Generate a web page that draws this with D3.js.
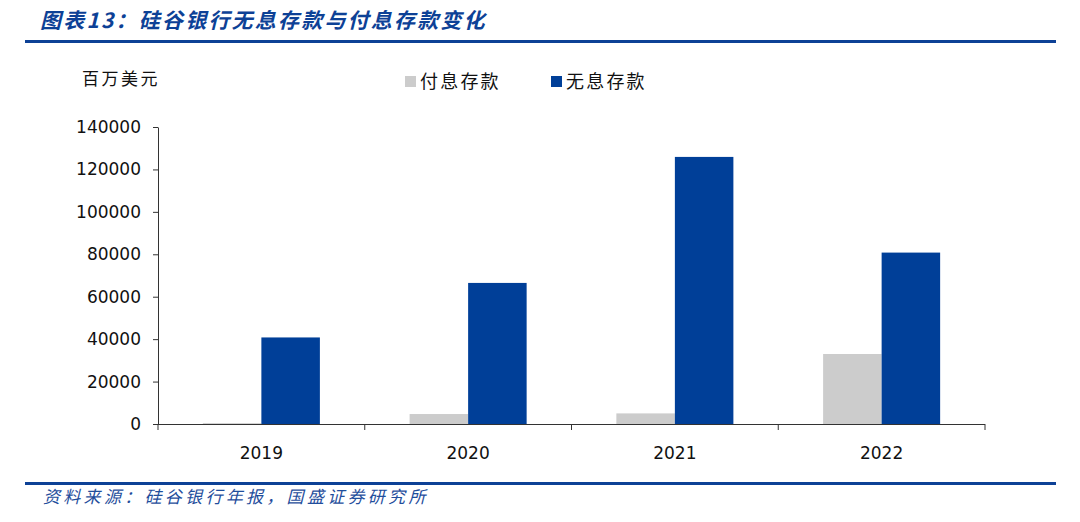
<!DOCTYPE html>
<html><head><meta charset="utf-8">
<script src="https://cdn.jsdelivr.net/npm/d3@7"></script>
<style>
body{margin:0;background:#fff;}
svg{display:block;}
</style></head>
<body>
<svg id="c" width="1080" height="522"></svg>
<script>
const categories = ["2019","2020","2021","2022"];
const seriesNames = ["付息存款","无息存款"];
const interestBearing = [400, 4700, 5000, 33000];
const nonInterestBearing = [40800, 66500, 125900, 80800];
const yTicks = [0,20000,40000,60000,80000,100000,120000,140000];
const colors = ["#cccccc","#003f98"];
const title = "图表13：硅谷银行无息存款与付息存款变化";
const source = "资料来源：硅谷银行年报，国盛证券研究所";
const unit = "百万美元";

const svg = d3.select("#c");
const cjk = "'Noto Sans CJK SC', sans-serif";
const num = "'DejaVu Sans', Tahoma, sans-serif";

// header / footer rules
svg.append("rect").attr("x",25).attr("y",40).attr("width",1031).attr("height",3).attr("fill","#0d4196");
svg.append("rect").attr("x",25).attr("y",482).attr("width",1031).attr("height",3).attr("fill","#0d4196");

svg.append("text").attr("x",40).attr("y",28)
  .attr("font-family",cjk).attr("font-size",21).attr("font-weight","bold").attr("font-style","italic")
  .attr("letter-spacing",2.2).attr("fill","#0d4196").text(title);
svg.append("text").attr("x",43).attr("y",503)
  .attr("font-family",cjk).attr("font-size",17).attr("font-style","italic")
  .attr("letter-spacing",3.3).attr("fill","#1f4e9c").text(source);

svg.append("text").attr("x",82).attr("y",85)
  .attr("font-family",cjk).attr("font-size",17).attr("letter-spacing",2.5).attr("fill","#111").text(unit);

// legend
const legX = [405, 551];
seriesNames.forEach((s,i)=>{
  svg.append("rect").attr("x",legX[i]).attr("y",76).attr("width",11).attr("height",11).attr("fill",colors[i]);
  svg.append("text").attr("x",legX[i]+15).attr("y",88)
    .attr("font-family",cjk).attr("font-size",18).attr("letter-spacing",2.2).attr("fill","#111").text(s);
});

const x = d3.scaleBand().domain(categories).range([158,985]).padding(0);
const groupFrac = 0.566;
const x1 = d3.scaleBand().domain(seriesNames).range([0, x.bandwidth()*groupFrac]).padding(0);
const groupOff = x.bandwidth()*(1-groupFrac)/2;
const y = d3.scaleLinear().domain([0,140000]).range([424,127]);

const data = [interestBearing, nonInterestBearing];
seriesNames.forEach((s,si)=>{
  svg.append("g").selectAll("rect").data(categories).join("rect")
    .attr("x", d=>x(d)+groupOff+x1(s))
    .attr("width", x1.bandwidth())
    .attr("y", (d,i)=>y(data[si][i]))
    .attr("height", (d,i)=>y(0)-y(data[si][i]))
    .attr("fill", colors[si]);
});

// y axis
const yAxis = d3.axisLeft(y).tickValues(yTicks).tickSize(5).tickSizeOuter(0).tickPadding(12).tickFormat(d=>String(d));
const gy = svg.append("g").attr("transform","translate(158,0)").call(yAxis);
gy.selectAll("text").attr("font-family",num).attr("font-size",17).attr("fill","#111");
gy.selectAll("line,path").attr("stroke","#333");

// x axis
svg.append("line").attr("x1",158).attr("x2",985).attr("y1",y(0)+0.5).attr("y2",y(0)+0.5).attr("stroke","#333");
const edges = categories.map(c=>x(c)).concat([x.range()[1]]);
svg.append("g").selectAll("line").data(edges).join("line")
  .attr("x1",d=>d).attr("x2",d=>d).attr("y1",y(0)).attr("y2",y(0)+6).attr("stroke","#333");
svg.append("g").selectAll("text").data(categories).join("text")
  .attr("x",d=>x(d)+x.bandwidth()/2).attr("y",459).attr("text-anchor","middle")
  .attr("font-family",num).attr("font-size",17).attr("fill","#111").text(d=>d);
</script>
</body></html>
